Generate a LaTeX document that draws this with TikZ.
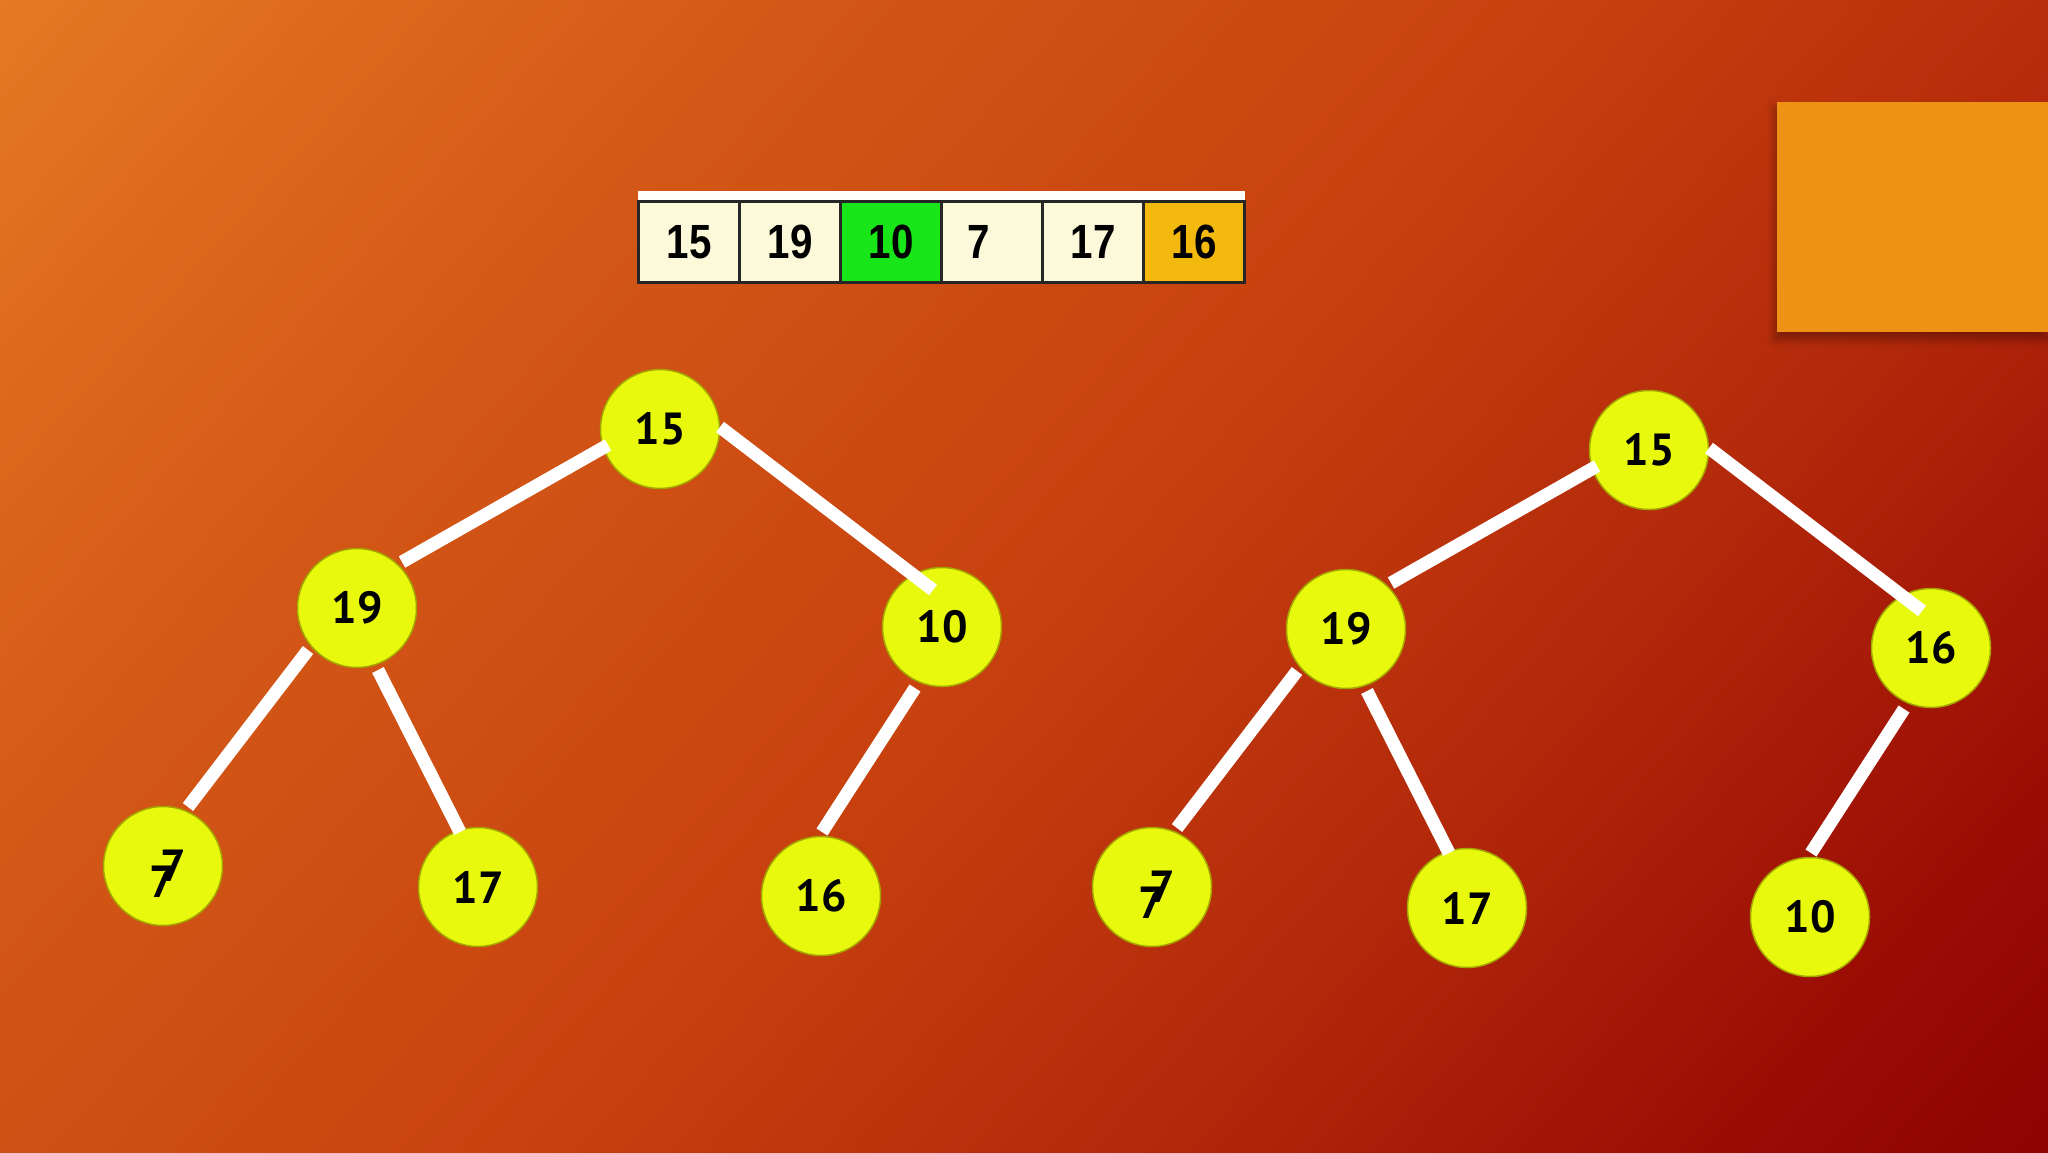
\documentclass[tikz,border=0pt]{standalone}
\usepackage{fontspec}
\setmainfont{PT Sans}
\newfontfamily\cellfont[FakeStretch=0.84]{Liberation Sans}
\usetikzlibrary{positioning,calc,shadows.blur}

\definecolor{heapfill}{HTML}{E8F90E}
\definecolor{heapline}{HTML}{A4A400}
\definecolor{cellfill}{HTML}{FCF9DA}
\definecolor{cellgreen}{HTML}{19E619}
\definecolor{cellorange}{HTML}{F4B90E}
\definecolor{boxorange}{HTML}{EE9216}

\pgfdeclareverticalshading{slidebg}{100bp}{%
    color(0bp)=(rgb,255:red,138;green,0;blue,0);
    color(12bp)=(rgb,255:red,138;green,0;blue,0);
    color(22bp)=(rgb,255:red,154;green,12;blue,4);
    color(35bp)=(rgb,255:red,178;green,40;blue,10);
    color(50bp)=(rgb,255:red,200;green,66;blue,15);
    color(66bp)=(rgb,255:red,210;green,86;blue,22);
    color(78bp)=(rgb,255:red,222;green,106;blue,30);
    color(90bp)=(rgb,255:red,234;green,132;blue,38);
    color(100bp)=(rgb,255:red,234;green,132;blue,38)}

\begin{document}
\begin{tikzpicture}[x=1pt,y=1pt]
    \tikzstyle{every node}=[inner sep=0,outer sep=0]
    \tikzstyle{heap}=[circle,fill=heapfill,draw=heapline,line width=1.5,minimum size=119,font=\fontsize{45}{50}\selectfont\bfseries]
    \tikzstyle{link}=[draw=white,line width=13]
    \tikzstyle{cell}=[rectangle,draw=black!85,line width=2.5,minimum width=101,minimum height=81,font=\cellfont\fontsize{48}{50}\selectfont\bfseries]

    \useasboundingbox (0,0) rectangle (2048,-1152);
    \shade[shading=slidebg,shading angle=48] (0,0) rectangle (2048,-1152);

    % orange box, top right
    \node[rectangle,fill=boxorange,minimum width=272,minimum height=230,anchor=north west,
          blur shadow={shadow xshift=-2,shadow yshift=-7,shadow opacity=35,shadow blur radius=8,shadow blur steps=10}] (sidebox) at (1777,-102) {};

    % the array
    \node[rectangle,fill=white!92!cellfill,minimum width=607,minimum height=93,anchor=north west] (frame) at (638,-191) {};
    {
        \newcount\dist
        \foreach \val/\col [count=\i from 0] in {15/cellfill,19/cellfill,10/cellgreen,\kern-26pt 7/cellfill,17/cellfill,16/cellorange} {
            \dist=\i
            \multiply\dist by 101
            \advance\dist by 689
            \node[cell,fill=\col] (c\i) at (\dist,-242) {\val};
        }
    }

    % the two heaps
    \foreach \t/\dx/\dy/\va/\vb in {l/0/0/10/16,r/989/-21/16/10} {
        \begin{scope}[shift={(\dx,\dy)}]
            \node[heap] (\t-root) at (660,-429) {15};
            \node[heap] (\t-left) at (357,-608) {19};
            \node[heap] (\t-right) at (942,-627) {\va};
            \node[heap] (\t-ll) at (163,-866) {\kern20pt\rlap{\raisebox{-16pt}[0pt][0pt]{\kern-11pt 7}}7};
            \node[heap] (\t-lr) at (478,-887) {17};
            \node[heap] (\t-rl) at (821,-896) {\vb};
        \end{scope}
        \draw[link] ($(\t-root)+(-52,-16)$) -- ($(\t-left)+(45,46)$);
        \draw[link] ($(\t-root)+(60,2)$) -- ($(\t-right)+(-9,37)$);
        \draw[link] ($(\t-left)+(-49,-42)$) -- ($(\t-ll)+(25,59)$);
        \draw[link] ($(\t-left)+(21,-62)$) -- ($(\t-lr)+(-18,55)$);
        \draw[link] ($(\t-right)+(-27,-61)$) -- ($(\t-rl)+(1,64)$);
    }
\end{tikzpicture}
\end{document}
